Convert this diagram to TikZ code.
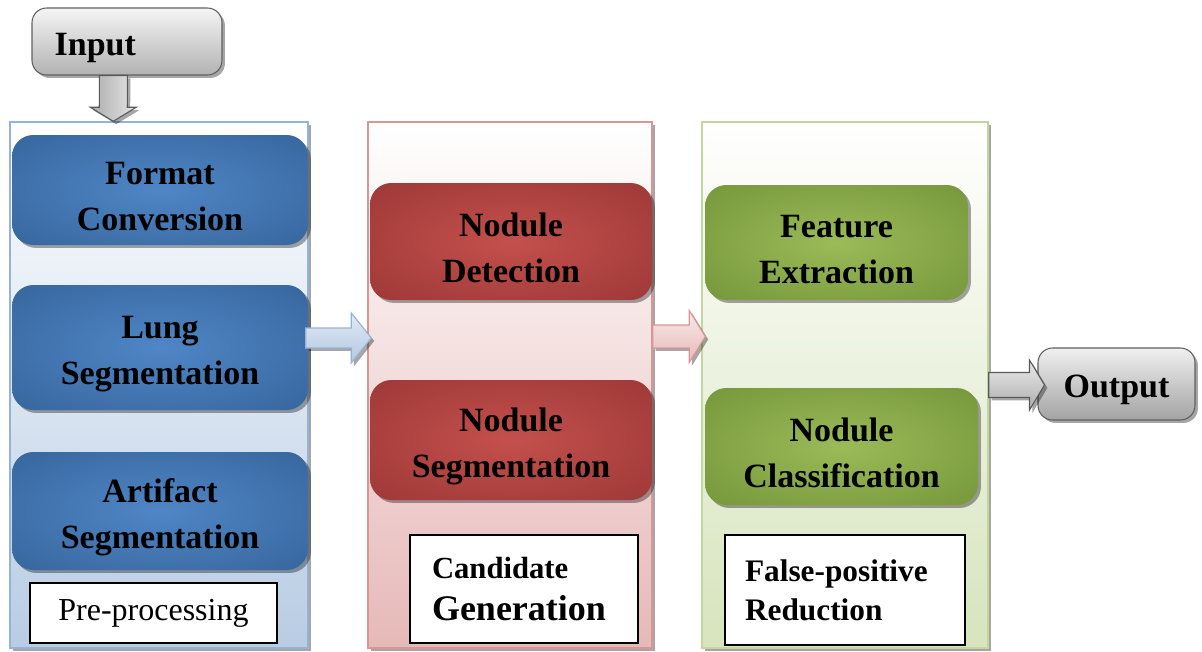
\documentclass[tikz,border=0pt]{standalone}
\usepackage{fontspec}
\setmainfont{Liberation Serif}
\usetikzlibrary{shadows,calc}

\definecolor{bluein}{HTML}{4F86C6}
\definecolor{blueout}{HTML}{2E598C}
\definecolor{redin}{HTML}{C4504C}
\definecolor{redout}{HTML}{8E2F2F}
\definecolor{greenin}{HTML}{9BBB59}
\definecolor{greenout}{HTML}{67882E}
\definecolor{bluepanel}{HTML}{B8CCE4}
\definecolor{blueedge}{HTML}{95B3D7}
\definecolor{redpanel}{HTML}{E6B9B8}
\definecolor{rededge}{HTML}{D99694}
\definecolor{greenpanel}{HTML}{D7E4BD}
\definecolor{greenedge}{HTML}{C3D69B}

\pgfdeclareradialshading{blueglow}{\pgfpoint{0bp}{0bp}}{color(0bp)=(bluein); color(50bp)=(blueout); color(80bp)=(blueout)}
\pgfdeclareradialshading{redglow}{\pgfpoint{0bp}{0bp}}{color(0bp)=(redin); color(50bp)=(redout); color(80bp)=(redout)}
\pgfdeclareradialshading{greenglow}{\pgfpoint{0bp}{0bp}}{color(0bp)=(greenin); color(50bp)=(greenout); color(80bp)=(greenout)}

\tikzset{
  softshadow/.style={drop shadow={shadow xshift=2.2pt, shadow yshift=-2.2pt, opacity=0.35, fill=black}},
  panel/.style={rectangle, line width=1.1pt, softshadow, minimum height=394.5pt},
  stepbox/.style={rectangle, rounded corners=16pt, draw=none, softshadow,
    font=\bfseries\fontsize{25.5}{34.5}\selectfont, align=center, text=black},
  bluebox/.style={stepbox, shading=blueglow},
  redbox/.style={stepbox, shading=redglow},
  greenbox/.style={stepbox, shading=greenglow},
  tagbox/.style={rectangle, draw=black, line width=1.1pt, fill=white, align=left},
  iobox/.style={rectangle, rounded corners=11pt, draw=gray!75!black, line width=0.8pt,
    softshadow, font=\bfseries\fontsize{25.5}{34.5}\selectfont,
    execute at begin node={\rule{0pt}{26pt}}},
  blockarrow/.style={line width=0.8pt, softshadow},
}

% taller first line so the two-line labels sit a little low in their boxes
\newcommand\lowtext[2]{\rule{0pt}{27pt}#1\\#2}

% horizontal block arrow between two named points
\newcommand\harrow[6]{%
  \path[blockarrow,#1]
    ($(#2)+(0,-#4)$) -- ($(#3)+(-#6,-#4)$) -- ($(#3)+(-#6,-#5)$) -- (#3)
    -- ($(#3)+(-#6,#5)$) -- ($(#3)+(-#6,#4)$) -- ($(#2)+(0,#4)$) -- cycle;}

\begin{document}
\begin{tikzpicture}[x=0.75pt,y=-0.75pt]
\useasboundingbox (0,0) rectangle (1202,651);

% stage panels
\node[panel, draw=blueedge, top color=white, bottom color=bluepanel, minimum width=223.5pt] (p1) at (159,385) {};
\node[panel, draw=rededge, top color=white, bottom color=redpanel, minimum width=213pt] (p2) at (510,385) {};
\node[panel, draw=greenedge, top color=white, bottom color=greenpanel, minimum width=214.5pt] (p3) at (845,385) {};

% pre-processing steps
\node[bluebox, minimum width=222pt, minimum height=82.5pt] (fc) at (160,190) {\lowtext{Format}{Conversion}};
\node[bluebox, minimum width=222pt, minimum height=93.75pt] (ls) at (160,347.5) {\lowtext{Lung}{Segmentation}};
\node[bluebox, minimum width=222pt, minimum height=88.5pt] (as) at (160,511) {\lowtext{Artifact}{Segmentation}};

% candidate generation steps
\node[redbox, minimum width=211.5pt, minimum height=87.75pt] (nd) at (511,241.5) {\lowtext{Nodule}{Detection}};
\node[redbox, minimum width=211.5pt, minimum height=90pt] (ns) at (511,440) {\lowtext{Nodule}{Segmentation}};

% false-positive reduction steps
\node[greenbox, minimum width=197.25pt, minimum height=86.25pt] (fe) at (836.5,242.5) {\lowtext{Feature}{Extraction}};
\node[greenbox, minimum width=204.75pt, minimum height=87.75pt] (nc) at (841.5,446.5) {\lowtext{Nodule}{Classification}};

% stage labels
\node[tagbox, minimum width=185.25pt, minimum height=45pt, align=center,
  font=\fontsize{24}{30}\selectfont] (t1) at (153.5,613) {Pre-processing};
\node[tagbox, minimum width=171pt, minimum height=81pt, text width=138pt, inner xsep=16.5pt,
  font=\bfseries\fontsize{23}{29}\selectfont] (t2) at (524,589)
  {Candidate\\[2pt]{\fontsize{27}{29}\selectfont Generation}};
\node[tagbox, minimum width=180pt, minimum height=82.5pt, text width=150pt, inner xsep=15pt,
  font=\bfseries\fontsize{23.5}{29}\selectfont] (t3) at (845,590) {False-positive\\Reduction};

% input and output
\node[iobox, top color=gray!8, bottom color=gray!60, minimum width=142.5pt, minimum height=50.25pt,
  text width=108.5pt, inner xsep=17pt, align=left] (in) at (127,41.5) {Input};
\node[iobox, shading angle=35, top color=gray!12, bottom color=gray!72,
  minimum width=117.75pt, minimum height=54pt] (out) at (1116.5,384) {Output};

% connector end points
\coordinate (a0s) at ($(in.south west)+(82,0)$);
\coordinate (a0e) at ($(p1.north west)+(104,0)$);
\coordinate (a1s) at ($(p1.east)+(-3,-47)$);
\coordinate (a1e) at ($(p2.west)+(4,-47)$);
\coordinate (a2s) at ($(p2.east)+(0,-48.5)$);
\coordinate (a2e) at ($(p3.west)+(4,-48.5)$);
\coordinate (a3s) at ($(p3.east)+(0,0)$);
\coordinate (a3e) at ($(out.west)+(7,1)$);

% input arrow (vertical)
\path[blockarrow, draw=gray!70!black, left color=gray!65, right color=gray!20]
  ($(a0s)+(-14,0)$) -- ($(a0e)+(-14,-14)$) -- ($(a0e)+(-23,-14)$) -- (a0e)
  -- ($(a0e)+(23,-14)$) -- ($(a0e)+(14,-14)$) -- ($(a0s)+(14,0)$) -- cycle;

% stage-to-stage arrows
\harrow{draw=blueedge, top color=white!60!bluepanel, bottom color=bluepanel!80!blueedge}{a1s}{a1e}{10}{25}{20}
\harrow{draw=rededge, top color=white!70!redpanel, bottom color=redpanel}{a2s}{a2e}{11.5}{26}{16}
\harrow{draw=gray!70!black, top color=gray!15, bottom color=gray!65}{a3s}{a3e}{12.5}{25}{15}

\end{tikzpicture}
\end{document}
